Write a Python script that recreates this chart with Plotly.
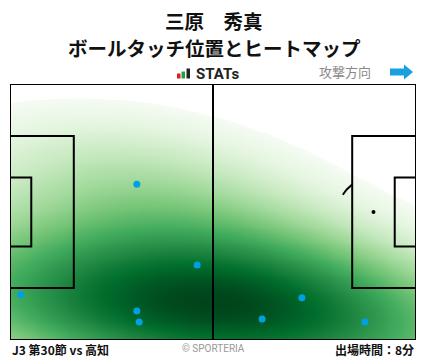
import numpy as np
import plotly.graph_objects as go

# ---- data (pitch metres: x 0..105 attack to the right, y 0..68 bottom->top)
touch_x = [32.8, 48.4, 2.8, 32.8, 33.4, 75.5, 65.2, 91.8]
touch_y = [41.4, 19.9, 12.0, 7.7, 4.8, 11.2, 5.6, 4.8]

title_name = "三原　秀真"
title_sub = "ボールタッチ位置とヒートマップ"
match_label = "J3 第30節 vs 高知"
minutes_label = "出場時間：8分"
direction_label = "攻撃方向"

L, W = 105.0, 68.0

# ---- gaussian KDE (scott bandwidth, full covariance) as in seaborn kdeplot
bw_adjust = 1.6
pts = np.vstack([touch_x, touch_y])
n = pts.shape[1]
factor = n ** (-1.0 / 6.0) * bw_adjust
cov = np.cov(pts) * factor ** 2
inv = np.linalg.inv(cov)

def kde(X, Y):
    dx = X[..., None] - pts[0]
    dy = Y[..., None] - pts[1]
    q = inv[0, 0] * dx * dx + 2 * inv[0, 1] * dx * dy + inv[1, 1] * dy * dy
    return np.exp(-0.5 * q).sum(-1)

# iso-proportion levels computed on an extended grid
bw = np.sqrt(np.diag(cov))
ex = np.linspace(min(touch_x) - 3 * bw[0], max(touch_x) + 3 * bw[0], 300)
ey = np.linspace(min(touch_y) - 3 * bw[1], max(touch_y) + 3 * bw[1], 300)
EX, EY = np.meshgrid(ex, ey)
ez = np.sort(kde(EX, EY).ravel())
ecum = np.cumsum(ez)
ecum /= ecum[-1]

gx = np.linspace(0, L, 421)
gy = np.linspace(0, W, 273)
GX, GY = np.meshgrid(gx, gy)
Z = kde(GX, GY)
prop = np.interp(Z, ez, ecum)  # fraction of mass below this density
thresh = 0.05
P = (prop - thresh) / (1 - thresh)
P = np.where(prop < thresh, np.nan, np.clip(P, 0, 1) ** 0.75)

greens = ["#f7fcf5", "#e5f5e0", "#c7e9c0", "#a1d99b", "#74c476",
          "#41ab5d", "#238b45", "#006d2c", "#00441b"]
cs = [[i / (len(greens) - 1), c] for i, c in enumerate(greens)]

fig = go.Figure()

fig.add_trace(go.Heatmap(x=gx, y=gy, z=P, colorscale=cs, zmin=0, zmax=1,
                         showscale=False, hoverinfo="skip"))

# only the uncovered part of the right penalty arc and the right penalty spot show
ta = np.radians(np.linspace(127, 150, 20))
fig.add_trace(go.Scatter(x=94 + 9.15 * np.cos(ta), y=34 + 9.15 * np.sin(ta), mode="lines",
                         line=dict(color="black", width=2), hoverinfo="skip", showlegend=False))
fig.add_trace(go.Scatter(x=[94], y=[34], mode="markers",
                         marker=dict(color="black", size=4), hoverinfo="skip", showlegend=False))

fig.add_trace(go.Scatter(x=touch_x, y=touch_y, mode="markers",
                         marker=dict(color="#00a0e6", size=7), hoverinfo="skip", showlegend=False))

line = dict(color="black", width=2)
shapes = [
    dict(type="rect", x0=0, x1=L, y0=0, y1=W, line=line),
    dict(type="line", x0=52.5, x1=52.5, y0=0, y1=W, line=line),
    dict(type="rect", x0=0, x1=16.5, y0=34 - 20.16, y1=34 + 20.16, line=line),
    dict(type="rect", x0=0, x1=5.5, y0=34 - 9.16, y1=34 + 9.16, line=line),
    dict(type="rect", x0=L - 16.5, x1=L, y0=34 - 20.16, y1=34 + 20.16, line=line),
    dict(type="rect", x0=L - 5.5, x1=L, y0=34 - 9.16, y1=34 + 9.16, line=line),
]
for s in shapes:
    s["xref"] = "x"
    s["yref"] = "y"
    s["layer"] = "above"

PW, PH = 428.0, 359.0
def px(x): return x / PW
def py(y): return 1 - y / PH

# STATs icon bars and direction arrow (paper coords)
deco = [
    dict(type="rect", x0=px(177), x1=px(180.5), y0=py(78.5), y1=py(73.5), fillcolor="#e02020", line=dict(width=0)),
    dict(type="rect", x0=px(181.5), x1=px(185), y0=py(78.5), y1=py(71.5), fillcolor="#20a040", line=dict(width=0)),
    dict(type="rect", x0=px(186.5), x1=px(190), y0=py(78.5), y1=py(68.5), fillcolor="#222222", line=dict(width=0)),
]
ax0, ax1, axm, ay = 390, 413, 404, 72
arrow_path = (f"M {px(ax0)} {py(ay-3.5)} L {px(axm)} {py(ay-3.5)} L {px(axm)} {py(ay-7.5)} "
              f"L {px(ax1)} {py(ay)} L {px(axm)} {py(ay+7.5)} L {px(axm)} {py(ay+3.5)} "
              f"L {px(ax0)} {py(ay+3.5)} Z")
deco.append(dict(type="path", path=arrow_path, fillcolor="#1aa0e0", line=dict(width=0)))
for s in deco:
    s["xref"] = "paper"
    s["yref"] = "paper"

JP = "Noto Sans CJK JP"
ann = [
    dict(x=px(214), y=py(20), text=f"<b>{title_name}</b>", font=dict(family=JP, size=19.5, color="#111"),
         xanchor="center", yanchor="middle"),
    dict(x=px(214), y=py(47), text=f"<b>{title_sub}</b>", font=dict(family=JP, size=19.5, color="#111"),
         xanchor="center", yanchor="middle"),
    dict(x=px(194), y=py(74), text="<b>STATs</b>", font=dict(family="Roboto", size=15, color="#222"),
         xanchor="left", yanchor="middle"),
    dict(x=px(373), y=py(72), text=direction_label, font=dict(family=JP, size=13, color="#888"),
         xanchor="right", yanchor="middle"),
    dict(x=px(10), y=py(349.5), text=f"<b>{match_label}</b>", font=dict(family=JP, size=12, color="#111"),
         xanchor="left", yanchor="middle"),
    dict(x=px(213), y=py(348.5), text="© SPORTERIA", font=dict(family="Roboto", size=10, color="#999"),
         xanchor="center", yanchor="middle"),
    dict(x=px(416), y=py(349.5), text=f"<b>{minutes_label}</b>", font=dict(family=JP, size=12, color="#111"),
         xanchor="right", yanchor="middle"),
]
for a in ann:
    a["xref"] = "paper"
    a["yref"] = "paper"
    a["showarrow"] = False

fig.update_layout(
    width=428, height=359, autosize=False,
    margin=dict(l=0, r=0, t=0, b=0),
    paper_bgcolor="white", plot_bgcolor="white",
    xaxis=dict(range=[0, L], domain=[10 / PW, 416 / PW], visible=False, fixedrange=True),
    yaxis=dict(range=[0, W], domain=[(PH - 340) / PH, (PH - 84) / PH], visible=False, fixedrange=True),
    shapes=shapes + deco,
    annotations=ann,
    showlegend=False,
)

fig.write_html("out.html", config={"displayModeBar": False},
               post_script="document.body.style.margin='0';document.body.style.padding='0';")
